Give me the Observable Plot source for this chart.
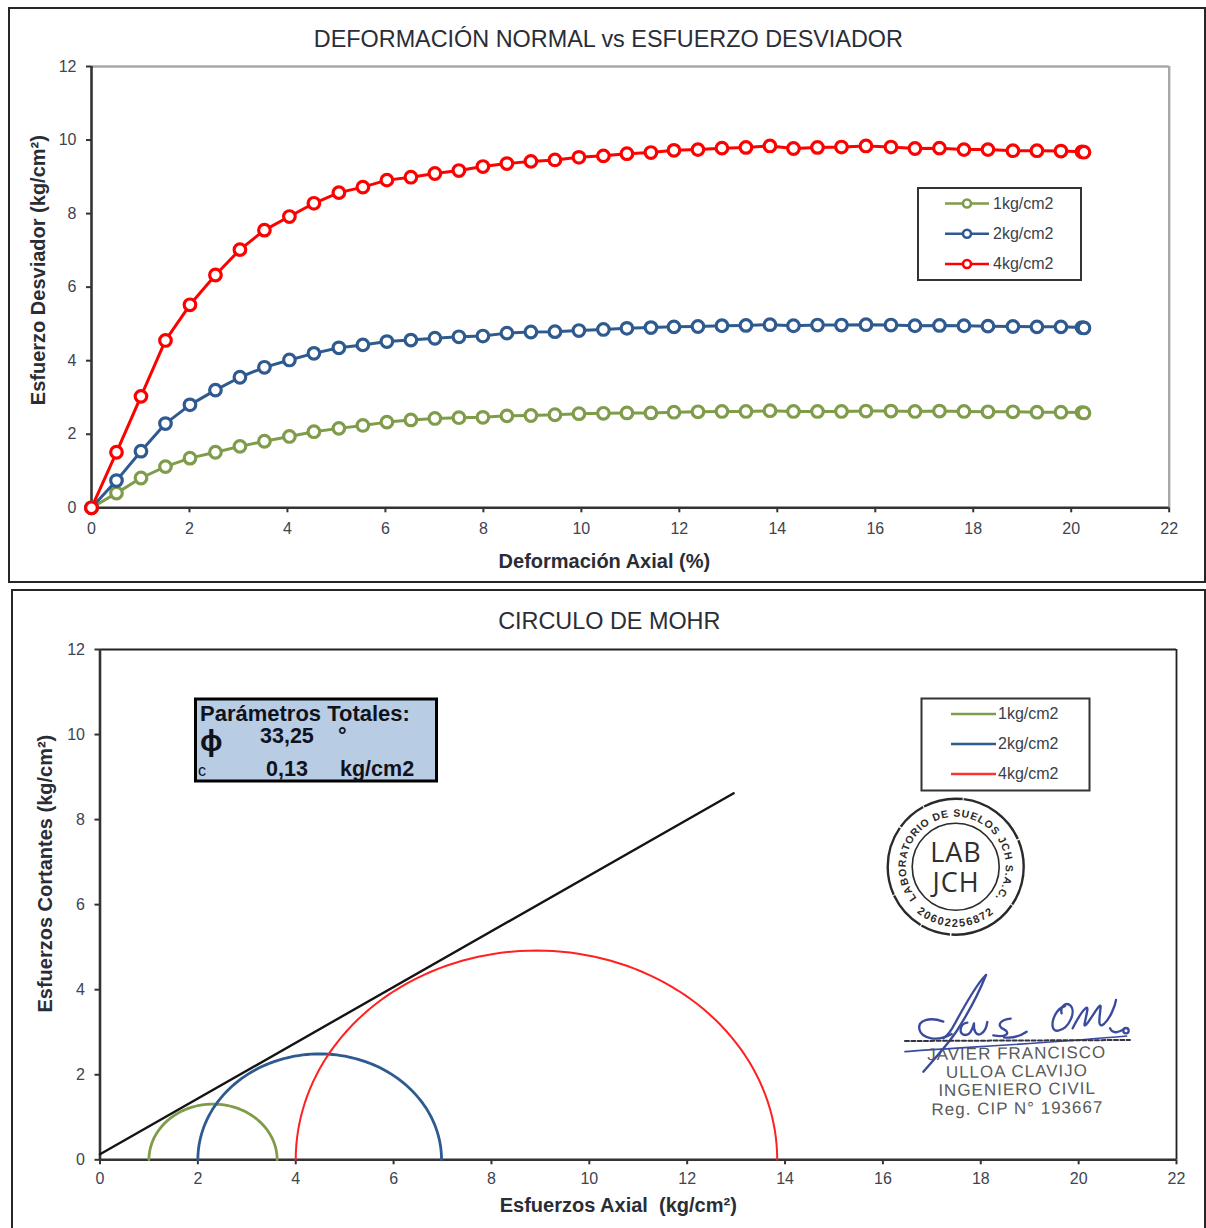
<!DOCTYPE html>
<html lang="es">
<head>
<meta charset="utf-8">
<script src="https://cdn.jsdelivr.net/npm/d3@7"></script>
<script src="https://cdn.jsdelivr.net/npm/@observablehq/plot@0.6"></script>
<style>
html,body{margin:0;padding:0;background:#fff;width:1206px;height:1228px;overflow:hidden;font-family:"Liberation Sans",Arial,sans-serif}
#page{position:relative;width:1206px;height:1228px;overflow:hidden}
.panel{position:absolute;box-sizing:border-box;border:2px solid #262626;background:#fff}
#p1{left:8px;top:7px;width:1198px;height:576px}
#p2{left:11px;top:589px;width:1195px;height:660px}
#page>svg{position:absolute}
#overlay{left:0;top:0;z-index:5;pointer-events:none}
</style>
</head>
<body>
<div id="page">
  <div class="panel" id="p1"></div>
  <div class="panel" id="p2"></div>
  <svg id="overlay" width="1206" height="1228" font-family="'Liberation Sans',Arial,sans-serif">
    <!-- legend, deformation chart -->
    <rect x="918" y="188" width="163" height="92" fill="#fff" stroke="#333" stroke-width="2"/>
    <g stroke-width="2.6" fill="none">
      <line x1="945" x2="989" y1="203.5" y2="203.5" stroke="#7f9c4a"/>
      <line x1="945" x2="989" y1="233.8" y2="233.8" stroke="#2f5a8f"/>
      <line x1="945" x2="989" y1="264" y2="264" stroke="#ff0000"/>
      <circle cx="967" cy="203.5" r="4" fill="#fff" stroke="#7f9c4a"/>
      <circle cx="967" cy="233.8" r="4" fill="#fff" stroke="#2f5a8f"/>
      <circle cx="967" cy="264" r="4" fill="#fff" stroke="#ff0000"/>
    </g>
    <g font-size="16" fill="#3a3f4a">
      <text x="993" y="209">1kg/cm2</text>
      <text x="993" y="239">2kg/cm2</text>
      <text x="993" y="269">4kg/cm2</text>
    </g>
    <!-- legend, Mohr chart -->
    <rect x="921.5" y="698.5" width="168" height="92" fill="#fff" stroke="#333" stroke-width="2"/>
    <g stroke-width="2.4">
      <line x1="951" x2="996" y1="714" y2="714" stroke="#7f9c4a"/>
      <line x1="951" x2="996" y1="744" y2="744" stroke="#2f5a8f"/>
      <line x1="951" x2="996" y1="774" y2="774" stroke="#ff3030"/>
    </g>
    <g font-size="16" fill="#3a3f4a">
      <text x="998" y="719">1kg/cm2</text>
      <text x="998" y="749">2kg/cm2</text>
      <text x="998" y="779">4kg/cm2</text>
    </g>
    <!-- parameter box -->
    <rect x="195.5" y="699" width="241" height="82" fill="#b8cce4" stroke="#000" stroke-width="3"/>
    <g fill="#10131c" font-weight="bold">
      <text x="200" y="721" font-size="22">Parámetros Totales:</text>
      <text x="200" y="751" font-size="30">ϕ</text>
      <text x="260" y="743" font-size="21.5">33,25</text>
      <text x="338" y="743" font-size="21.5">°</text>
      <text x="198" y="776" font-size="16" font-weight="normal">c</text>
      <text x="266" y="776" font-size="21.5">0,13</text>
      <text x="340" y="776" font-size="21.5">kg/cm2</text>
    </g>
    <!-- stamp -->
    <defs>
      <path id="arcTop" d="M 934.6 912 A 50 50 0 1 1 976.8 912"/>
      <path id="arcBottom" d="M 895.7 866.7 A 60 60 0 0 0 1015.7 866.7"/>
    </defs>
    <g fill="none" stroke="#2a2a2a">
      <circle cx="955.7" cy="866.7" r="68" stroke-width="2.4" stroke-dasharray="40 1 70 1.5 30 1"/>
      <circle cx="955.7" cy="866.7" r="43.5" stroke-width="1.6"/>
    </g>
    <g fill="#2a2a2a" font-weight="bold">
      <text font-size="10.5" letter-spacing="0.8" text-anchor="middle"><textPath href="#arcTop" startOffset="50%">LABORATORIO DE SUELOS JCH S.A.C.</textPath></text>
      <text font-size="11" letter-spacing="1.6" text-anchor="middle"><textPath href="#arcBottom" startOffset="50%">20602256872</textPath></text>
    </g>
    <g fill="#2f2f2f" font-size="27" text-anchor="middle" letter-spacing="1" font-family="'Open Sans','Liberation Sans',sans-serif">
      <text x="956" y="862">LAB</text>
      <text x="956" y="892">JCH</text>
    </g>
    <!-- engineer's block -->
    <g fill="#5a5a5a" font-size="17" text-anchor="middle" letter-spacing="1" transform="rotate(-0.8 1017 1080)">
      <text x="1017" y="1059">JAVIER FRANCISCO</text>
      <text x="1017" y="1077">ULLOA CLAVIJO</text>
      <text x="1017" y="1095">INGENIERO CIVIL</text>
      <text x="1017" y="1114">Reg. CIP N° 193667</text>
    </g>
    <!-- signature -->
    <g transform="translate(880 960) scale(0.33333)" fill="none" stroke="#3a4a9c" stroke-width="7" stroke-linecap="round" stroke-linejoin="round">
      <path d="M318 45 C300 90 270 150 235 205 C215 240 165 295 130 335"/>
      <path d="M318 45 C290 70 255 135 225 190 C215 210 205 225 190 235"/>
      <path d="M190 185 C150 170 112 180 118 208 C125 238 175 245 215 222"/>
      <path d="M262 188 C240 190 232 225 258 225 C272 225 278 205 282 190 C280 212 288 228 302 222 C314 216 320 200 322 186"/>
      <path d="M392 176 C365 178 345 195 372 208 C392 218 380 234 340 226 M372 232 C400 236 425 225 440 215"/>
      <path d="M555 138 C518 148 503 218 535 212 C568 206 592 150 568 134 C552 126 540 145 545 160"/>
      <path d="M578 205 C595 170 625 125 622 150 C618 180 605 210 622 190 C640 165 662 125 662 140 C660 165 650 210 672 192 C690 175 705 140 708 120"/>
      <path d="M690 205 C700 225 720 215 730 208"/>
      <circle cx="738" cy="212" r="8"/>
      <path d="M75 275 C200 265 500 250 740 228" stroke-width="5"/>
      <path d="M75 243 L750 240" stroke="#333344" stroke-width="6" stroke-dasharray="12 7"/>
    </g>
  </svg>
</div>
<script>
// --- deformation vs deviator stress
const strain = [0,0.51,1.01,1.51,2.01,2.53,3.03,3.53,4.04,4.54,5.05,5.54,6.03,6.52,7.01,7.5,7.99,8.48,8.97,9.46,9.95,10.45,10.93,11.42,11.89,12.38,12.87,13.36,13.85,14.33,14.82,15.31,15.81,16.32,16.81,17.31,17.81,18.3,18.81,19.3,19.79,20.22,20.26];
const stress1 = [0,0.40,0.81,1.12,1.35,1.51,1.67,1.81,1.94,2.07,2.16,2.24,2.33,2.39,2.43,2.45,2.46,2.50,2.51,2.53,2.56,2.57,2.58,2.58,2.60,2.61,2.62,2.62,2.64,2.62,2.62,2.62,2.63,2.63,2.62,2.63,2.62,2.61,2.61,2.60,2.60,2.59,2.58];
const stress2 = [0,0.74,1.54,2.29,2.80,3.20,3.55,3.82,4.02,4.20,4.35,4.43,4.52,4.56,4.61,4.65,4.67,4.75,4.78,4.79,4.82,4.85,4.88,4.90,4.92,4.93,4.95,4.96,4.98,4.95,4.97,4.97,4.98,4.97,4.95,4.96,4.95,4.94,4.93,4.92,4.92,4.90,4.89];
const stress4 = [0,1.51,3.03,4.55,5.52,6.33,7.02,7.55,7.92,8.28,8.57,8.72,8.91,8.99,9.09,9.17,9.28,9.36,9.42,9.46,9.53,9.57,9.63,9.66,9.72,9.74,9.78,9.80,9.84,9.77,9.80,9.81,9.84,9.81,9.77,9.78,9.74,9.74,9.71,9.71,9.70,9.68,9.67];

// --- Mohr circles: minor and major principal stress of each test
const sigmaMinor = [1, 2, 4];
const sigmaMajor = [3.62, 6.98, 13.84];
const envelopeX = [0, 12.95];
const envelopeY = [0.13, 8.62];

const xTicks = [0,2,4,6,8,10,12,14,16,18,20,22];
const yTicks = [0,2,4,6,8,10,12];
const GREEN = "#7f9c4a", BLUE = "#2f5a8f", RED = "#ff0000";
const TICK = "#3d4452", DARK = "#333333";
const FONT = "'Liberation Sans',Arial,sans-serif";

function axes(frameColor, frameWidth, xPad) {
  return [
    Plot.ruleY([12], {stroke: frameColor, strokeWidth: frameWidth}),
    Plot.ruleX([22], {stroke: frameColor, strokeWidth: frameWidth}),
    Plot.axisX({ticks: xTicks, tickSize: 5, tickPadding: xPad, fontSize: 16, stroke: DARK, strokeWidth: 2, fill: TICK, label: null, tickFormat: d => String(d)}),
    Plot.axisY({ticks: yTicks, tickSize: 5, tickPadding: 10, fontSize: 16, stroke: DARK, strokeWidth: 2, fill: TICK, label: null, tickFormat: d => String(d)}),
    Plot.ruleX([0], {stroke: DARK, strokeWidth: 2.6}),
    Plot.ruleY([0], {stroke: DARK, strokeWidth: 2.6})
  ];
}
function label(t, o) {
  return Plot.text([t], {text: d => d, fontWeight: "bold", fontSize: 20, fill: "#2a2d35", ...o});
}
function series(ys, color) {
  const rows = strain.map((x, i) => ({x, y: ys[i]}));
  return [
    Plot.line(rows, {x: "x", y: "y", stroke: color, strokeWidth: 3}),
    Plot.dot(rows, {x: "x", y: "y", r: 5.8, fill: "#fff", stroke: color, strokeWidth: 3.2})
  ];
}

const chart1 = Plot.plot({
  width: 1206, height: 590,
  marginLeft: 91, marginRight: 37.3, marginTop: 66, marginBottom: 82.7,
  x: {domain: [0, 22]}, y: {domain: [0, 12]},
  style: {fontFamily: FONT, background: "transparent", overflow: "visible"},
  marks: [
    ...axes("#a8a8a8", 2.4, 10),
    ...series(stress1, GREEN),
    ...series(stress2, BLUE),
    ...series(stress4, RED),
    label("Deformación Axial (%)", {frameAnchor: "bottom", dx: -26, dy: 54, lineAnchor: "middle"}),
    label("Esfuerzo Desviador (kg/cm²)", {frameAnchor: "left", dx: -53, dy: -17, rotate: -90, textAnchor: "middle", lineAnchor: "middle"}),
    Plot.text(["DEFORMACIÓN NORMAL vs ESFUERZO DESVIADOR"], {text: d => d, frameAnchor: "top", dx: -22, dy: -27, fontSize: 23.4, lineAnchor: "middle", fill: "#2a2d35"})
  ]
});
chart1.style.left = "0px"; chart1.style.top = "0px";

// The arcs are geometry: each half circle follows from its two principal stresses.
function arc(i) {
  const c = (sigmaMinor[i] + sigmaMajor[i]) / 2, r = (sigmaMajor[i] - sigmaMinor[i]) / 2;
  return d3.range(0, 181, 2).map(a => ({x: c - r * Math.cos(a * Math.PI / 180), y: r * Math.sin(a * Math.PI / 180)}));
}
const chart2 = Plot.plot({
  width: 1206, height: 638,
  marginLeft: 99.5, marginRight: 30, marginTop: 59, marginBottom: 68.7,
  x: {domain: [0, 22]}, y: {domain: [0, 12]},
  style: {fontFamily: FONT, background: "transparent", overflow: "visible"},
  marks: [
    ...axes("#222222", 1.8, 8),
    Plot.line(envelopeX.map((x, i) => ({x, y: envelopeY[i]})), {x: "x", y: "y", stroke: "#141414", strokeWidth: 2.4}),
    Plot.line(arc(0), {x: "x", y: "y", stroke: GREEN, strokeWidth: 2.8}),
    Plot.line(arc(1), {x: "x", y: "y", stroke: BLUE, strokeWidth: 2.8}),
    Plot.line(arc(2), {x: "x", y: "y", stroke: "#ff2020", strokeWidth: 2}),
    label("Esfuerzos Axial  (kg/cm²)", {frameAnchor: "bottom", dx: -20, dy: 46, lineAnchor: "middle"}),
    label("Esfuerzos Cortantes (kg/cm²)", {frameAnchor: "left", dx: -54, dy: -31, rotate: -90, textAnchor: "middle", lineAnchor: "middle"}),
    Plot.text(["CIRCULO DE MOHR"], {text: d => d, frameAnchor: "top", dx: -29, dy: -28, fontSize: 23.4, lineAnchor: "middle", fill: "#2a2d35"})
  ]
});
chart2.style.left = "0px"; chart2.style.top = "590px";

const page = document.getElementById("page");
page.insertBefore(chart1, document.getElementById("overlay"));
page.insertBefore(chart2, document.getElementById("overlay"));
</script>
</body>
</html>
